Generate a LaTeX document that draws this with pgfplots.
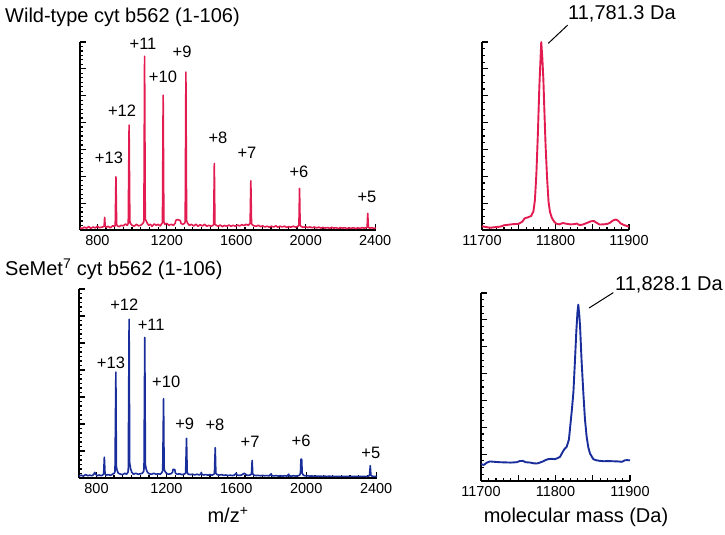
\documentclass[border=0pt]{standalone}
\usepackage{fontspec}
\setmainfont{Liberation Sans}
\usepackage{pgfplots}
\pgfplotsset{compat=1.18}
\definecolor{wtred}{RGB}{226,28,80}
\definecolor{smblue}{RGB}{25,45,155}
\pgfplotsset{
 myaxis/.style={
  scale only axis,
  axis lines=left,
  axis line style={line width=2pt, black, -},
  tick align=inside,
  tick style={black, line width=1.2pt},
  major tick length=5.5pt, minor tick length=3pt,
  ymin=0, ymax=100,
  ytick distance=14.2857,
  yticklabels={},
  scaled x ticks=false,
  /pgf/number format/assume math mode=true,
  /pgf/number format/1000 sep={},
  ticklabel style={font=\fontsize{14.5}{16}\selectfont},
  xticklabel style={yshift=-2pt},
  clip=false,
  anchor=south west,
 },
}
\tikzset{chg/.style={font=\fontsize{16.5}{18}\selectfont, inner sep=0pt}}
\begin{document}
\begin{tikzpicture}
\useasboundingbox (0pt,0pt) rectangle (725pt,535pt);
% ---------- top left: wild type spectrum
\begin{axis}[myaxis, at={(80pt,305pt)}, width=296pt, height=188pt,
  xmin=700, xmax=2405, xtick={800,1200,1600,2000,2400}, minor x tick num=7, minor y tick num=5]
\addplot[wtred, line width=1.6pt, line join=round] coordinates {
(700,1.2)(712,0.8)(725,1.5)(738,1.0)(750,1.8)(762,0.9)(775,1.6)(788,1.1)(800,2.0)(812,1.2)
(825,1.5)(836,1.8)(839,2)(842,6.7)(845,2)(850,1.5)(862,1.9)(875,1.2)(888,2.2)(900,2.0)
(903,2.5)(907,28.3)(911,3.0)(915,2.2)(925,1.8)(938,2.5)(950,2.2)(962,3.2)(972,2.5)(978,3.5)
(982.8,55.8)(987,5)(990,3.5)(1000,2.5)(1012,2.0)(1025,3.0)(1038,2.2)(1050,2.5)(1062,3.5)(1068,4.5)
(1072,92.4)(1076,5.5)(1080,5.2)(1085,4.0)(1095,2.5)(1105,3.0)(1115,2.0)(1128,3.2)(1140,2.5)(1150,3.0)
(1162,2.2)(1172,3.5)(1175,4)(1179,71.7)(1183,4.5)(1188,3.0)(1200,3.5)(1212,2.5)(1225,3.0)(1238,2.5)
(1248,3.5)(1252,5.2)(1265,5.5)(1278,5.0)(1282,3.5)(1292,3.0)(1302,3.5)(1306,4.5)(1310,84)(1314,5)
(1320,3.5)(1330,2.5)(1342,3.0)(1355,2.2)(1368,3.0)(1380,2.0)(1392,2.8)(1405,2.2)(1418,3.0)(1430,2.0)
(1442,2.5)(1455,2.0)(1466,2.5)(1470,3.0)(1473.7,35.4)(1477,3.0)(1485,2.5)(1495,2.0)(1508,2.6)(1520,1.8)
(1532,2.4)(1545,2.0)(1558,2.6)(1570,2.0)(1582,2.5)(1595,2.0)(1608,2.6)(1620,2.2)(1632,2.8)(1645,2.4)
(1658,3.0)(1670,2.5)(1676,3.2)(1680,3.5)(1684,26.2)(1688,3.5)(1692,2.8)(1702,2.2)(1715,2.0)(1728,2.5)
(1740,1.8)(1752,2.2)(1765,1.6)(1778,2.0)(1790,1.5)(1802,2.0)(1815,1.6)(1828,2.2)(1840,1.5)(1852,2.0)
(1865,1.6)(1878,2.0)(1890,1.4)(1902,1.8)(1915,1.5)(1928,2.0)(1940,1.6)(1952,1.8)(1958,2.2)(1961,2.5)
(1964.6,22.1)(1968,2.5)(1975,1.8)(1988,1.4)(2000,1.8)(2012,1.3)(2025,1.6)(2038,1.2)(2050,1.6)(2062,1.1)
(2075,1.5)(2088,1.0)(2100,1.4)(2112,1.0)(2125,1.3)(2138,0.9)(2150,1.4)(2162,1.0)(2175,1.2)(2188,0.8)
(2200,1.3)(2212,1.0)(2225,1.2)(2238,0.8)(2250,1.1)(2262,0.9)(2275,1.2)(2288,0.8)(2300,1.1)(2312,0.9)
(2325,1.2)(2338,1.0)(2350,1.3)(2354,1.5)(2357.3,8.8)(2361,1.5)(2368,1.0)(2380,1.2)(2392,0.9)(2405,1.0)
};
\node[chg] at (axis cs:867,38.3) {+13};
\node[chg] at (axis cs:942,63.3) {+12};
\node[chg] at (axis cs:1063,98.9) {+11};
\node[chg] at (axis cs:1178,81.4) {+10};
\node[chg] at (axis cs:1288,94.7) {+9};
\node[chg] at (axis cs:1495,48.9) {+8};
\node[chg] at (axis cs:1662,41) {+7};
\node[chg] at (axis cs:1961,30.9) {+6};
\node[chg] at (axis cs:2353,17.6) {+5};
\end{axis}
% ---------- bottom left: SeMet spectrum
\begin{axis}[myaxis, at={(79pt,57pt)}, width=298pt, height=189pt,
  xmin=700, xmax=2405, xtick={800,1200,1600,2000,2400}, minor x tick num=7, minor y tick num=5]
\addplot[smblue, line width=1.6pt, line join=round] coordinates {
(700,1.0)(712,1.5)(725,1.0)(738,1.8)(750,1.2)(762,1.5)(775,1.2)(785,2.0)(790,3.0)(795,2.0)
(805,1.2)(815,1.6)(828,1.2)(838,1.8)(841,2.2)(845,11)(849,2.2)(855,1.5)(868,1.8)(880,1.4)
(892,2.0)(902,2.5)(906,3.5)(910.9,56)(914,6)(918,4)(925,2.5)(938,2.0)(950,1.8)(962,2.5)
(972,2.0)(980,3.0)(982,4.0)(986.7,84)(990,8)(995,5)(1002,3)(1012,2.0)(1025,2.5)(1038,2.0)
(1050,2.2)(1062,2.5)(1070,3.5)(1072,5)(1076.3,74.4)(1080,7)(1085,4.5)(1092,3)(1102,2.2)(1115,2.0)
(1128,2.5)(1140,2.0)(1152,2.2)(1165,2.0)(1175,3)(1179,4)(1183.8,42)(1187,5)(1192,3.5)(1200,2.5)
(1212,2.0)(1225,2.2)(1235,3)(1238,4.5)(1248,4.5)(1252,2.5)(1262,2.0)(1275,2.2)(1288,1.8)(1300,2.0)
(1310,2.5)(1315.2,21)(1319,3)(1325,2.0)(1338,1.8)(1350,2.0)(1362,1.6)(1375,2.0)(1388,1.6)(1398,2.2)
(1400,3.0)(1402,2.0)(1412,1.6)(1425,1.8)(1438,1.5)(1450,1.8)(1462,1.5)(1472,2.0)(1475,2.5)(1479.5,16)
(1483,2.5)(1490,1.8)(1502,1.5)(1515,1.8)(1528,1.4)(1540,1.6)(1552,1.3)(1565,1.5)(1578,1.3)(1590,1.6)
(1600,2.5)(1603,1.6)(1615,1.4)(1628,1.5)(1640,2.2)(1645,2.5)(1650,2.2)(1660,1.5)(1672,1.4)(1684,1.8)
(1687,2.5)(1690.7,9.3)(1694,2.2)(1700,1.5)(1712,1.3)(1725,1.4)(1738,1.2)(1750,1.4)(1762,1.2)(1775,1.3)
(1788,1.1)(1800,2.2)(1803,1.2)(1815,1.1)(1828,1.3)(1840,1.0)(1852,1.2)(1865,1.0)(1878,1.2)(1890,1.0)
(1900,2.0)(1903,1.1)(1915,1.0)(1928,1.2)(1940,1.0)(1952,1.2)(1962,1.5)(1967,2.5)(1970,10)(1974,10)
(1977,2.5)(1985,1.4)(1995,1.1)(2008,1.2)(2020,1.0)(2032,1.1)(2045,0.9)(2058,1.0)(2070,0.9)(2082,1.0)
(2095,0.8)(2108,1.0)(2120,0.8)(2132,1.0)(2145,0.8)(2158,0.9)(2170,0.8)(2182,0.9)(2195,0.8)(2208,0.9)
(2220,0.8)(2232,0.9)(2245,0.8)(2258,0.9)(2270,0.8)(2282,0.9)(2295,0.8)(2308,0.9)(2320,0.8)(2332,0.9)
(2345,0.8)(2358,1.0)(2362,1.5)(2366.6,6.5)(2370,1.5)(2378,0.9)(2390,0.8)(2405,0.9)
};
\node[chg] at (axis cs:883,61) {+13};
\node[chg] at (axis cs:959,91.5) {+12};
\node[chg] at (axis cs:1113,81) {+11};
\node[chg] at (axis cs:1199,51) {+10};
\node[chg] at (axis cs:1305,28.9) {+9};
\node[chg] at (axis cs:1478,28.4) {+8};
\node[chg] at (axis cs:1679,19.2) {+7};
\node[chg] at (axis cs:1971,19.6) {+6};
\node[chg] at (axis cs:2370,13.4) {+5};
\end{axis}
% ---------- top right: WT deconvoluted
\begin{axis}[myaxis, at={(482pt,305pt)}, width=147pt, height=188pt,
  xmin=11700, xmax=11900, xtick={11700,11750,11800,11850,11900}, xticklabels={11700,,11800,,11900},
  minor x tick num=4, minor y tick num=3]
\addplot[wtred, line width=1.9pt, line join=round] coordinates {
(11700,2.0)(11705,1.6)(11711,1.2)(11718,1.5)(11725,1.8)(11730,2.5)(11736,2.8)(11742,3.1)(11750,3.3)
(11755,4.5)(11758,6.2)(11763,6.8)(11767,7.5)(11770,10)(11772,16)(11774,30)(11776,51)(11778,76)
(11779.5,90)(11780.6,100)(11782,92)(11783.5,80)(11785,62)(11786.5,45)(11788.5,28)(11790.5,15)
(11792.5,9.5)(11795,6.5)(11798,4.5)(11801,3.4)(11805,3.0)(11810,3.7)(11815,3.3)(11820,3.0)
(11825,3.1)(11829,3.4)(11833,2.6)(11838,3.0)(11843,3.8)(11848,4.6)(11852,4.8)(11856,3.8)
(11860,2.9)(11865,3.0)(11870,3.2)(11874,3.8)(11878,5.0)(11882,5.6)(11885,5.0)(11889,3.4)
(11894,2.5)(11900,1.8)
};
\draw[black, line width=1pt] (axis cs:11790.2,99.3) -- (axis cs:11816.6,109);
\node[anchor=base west, inner sep=0pt, font=\fontsize{20}{22}\selectfont] at (axis cs:11817,111.7) {11,781.3 Da};
\end{axis}
% ---------- bottom right: SeMet deconvoluted
\begin{axis}[myaxis, at={(481pt,54pt)}, width=149pt, height=188pt,
  xmin=11700, xmax=11900, xtick={11700,11750,11800,11850,11900}, xticklabels={11700,,11800,,11900},
  minor x tick num=4, minor y tick num=3]
\addplot[smblue, line width=1.9pt, line join=round] coordinates {
(11700,8.9)(11704,8.6)(11708,9.8)(11712,10.4)(11718,10.2)(11725,10.0)(11732,9.9)(11740,9.8)
(11748,10.0)(11752,10.6)(11756,10.7)(11760,10.0)(11766,9.8)(11771,9.4)(11775,9.3)(11779,9.8)
(11783,10.4)(11787,11.2)(11790,11.6)(11795,11.8)(11799,11.6)(11803,12.2)(11806,12.8)(11809,15.0)
(11812,17.0)(11815,18.2)(11818,22)(11820,30)(11822,38)(11824,47)(11826,63)(11828,80)(11829.5,90)
(11830.6,93.8)(11832,88)(11833,82)(11835,64)(11837.4,46.6)(11839.5,33)(11841.8,23.5)(11844,18)
(11846.3,14.6)(11850.8,11.6)(11855,11.0)(11859.7,10.7)(11865,10.5)(11870,10.6)(11877.6,10.5)
(11884,10.4)(11889,10.2)(11893,11.0)(11896,11.1)(11900,11.0)
};
\draw[black, line width=1pt] (axis cs:11845,92) -- (axis cs:11877.6,100.2);
\node[anchor=base west, inner sep=0pt, font=\fontsize{20}{22}\selectfont] at (axis cs:11879.9,101.2) {11,828.1 Da};
\end{axis}
% ---------- titles and axis labels
\node[anchor=base west, inner sep=0pt, font=\fontsize{20}{22}\selectfont] at (5pt,512pt) {Wild-type cyt b562 (1-106)};
\node[anchor=base west, inner sep=0pt, font=\fontsize{20}{22}\selectfont] at (5pt,259pt) {SeMet\textsuperscript{7} cyt b562 (1-106)};
\node[anchor=base, inner sep=0pt, font=\fontsize{20}{22}\selectfont] at (228pt,12pt) {m/z\textsuperscript{+}};
\node[anchor=base, inner sep=0pt, font=\fontsize{20}{22}\selectfont] at (576pt,12pt) {molecular mass (Da)};
\end{tikzpicture}
\end{document}
